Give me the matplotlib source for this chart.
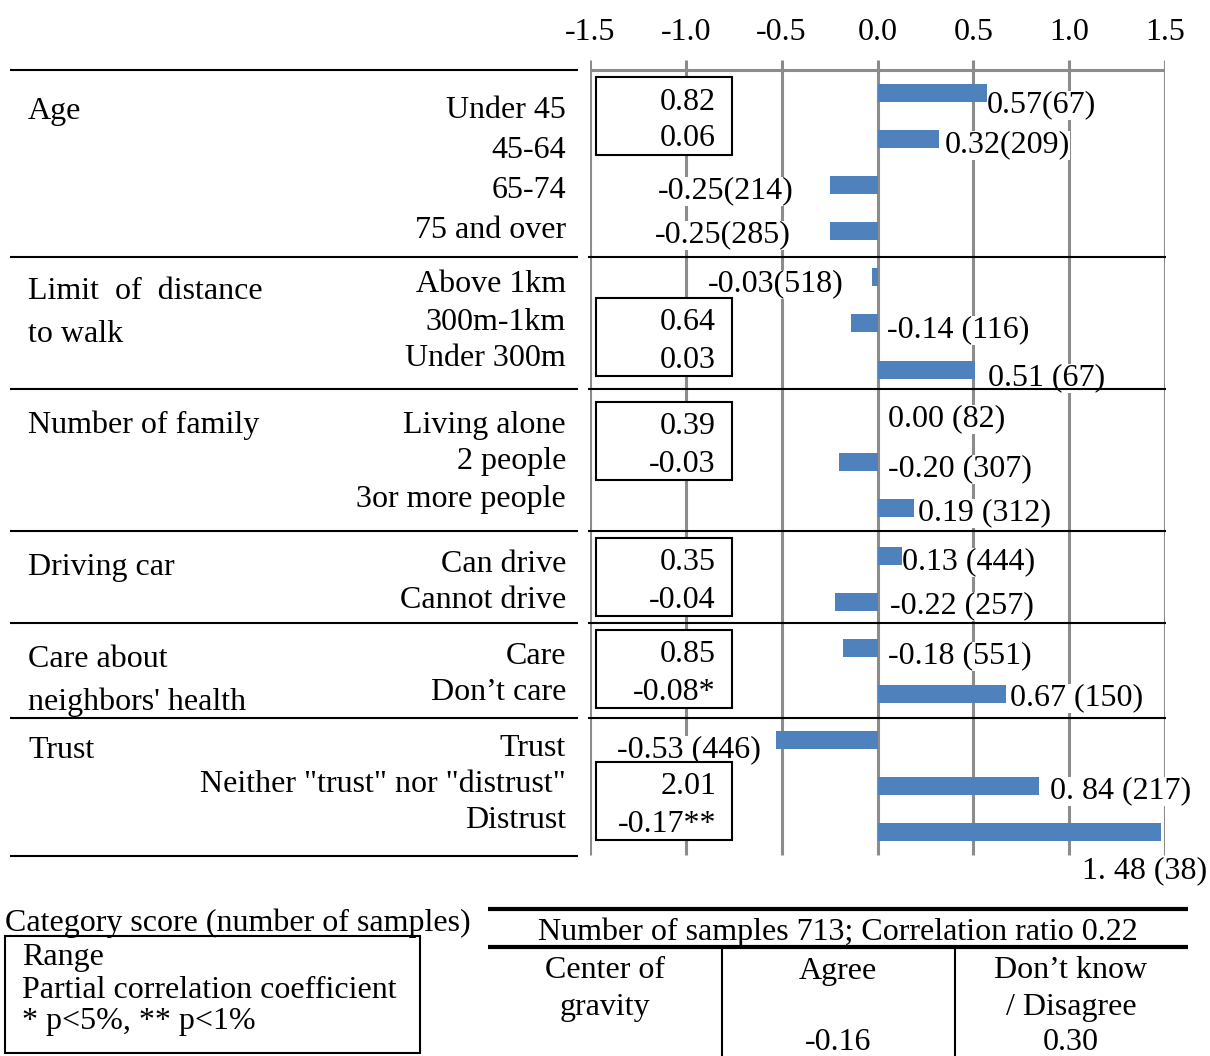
import matplotlib
matplotlib.use("Agg")
import matplotlib.pyplot as plt
from matplotlib.patches import Rectangle

plt.rcParams['font.family'] = ['Liberation Serif', 'DejaVu Serif']

# category scores and labels
scores = [0.57, 0.32, -0.25, -0.25,
          -0.03, -0.14, 0.51,
          0.00, -0.20, 0.19,
          0.13, -0.22,
          -0.18, 0.67,
          -0.53, 0.84, 1.48]
score_labels = ["0.57(67)", "0.32(209)", "-0.25(214)", "-0.25(285)",
                "-0.03(518)", "-0.14 (116)", "0.51 (67)",
                "0.00 (82)", "-0.20 (307)", "0.19 (312)",
                "0.13 (444)", "-0.22 (257)",
                "-0.18 (551)", "0.67 (150)",
                "-0.53 (446)", "0. 84 (217)", "1. 48 (38)"]
groups = ["Age", "Limit  of  distance\nto walk", "Number of family",
          "Driving car", "Care about\nneighbors' health", "Trust"]
categories = ["Under 45", "45-64", "65-74", "75 and over",
              "Above 1km", "300m-1km", "Under 300m",
              "Living alone", "2 people", "3or more people",
              "Can drive", "Cannot drive",
              "Care", "Don\u2019t care",
              "Trust", "Neither \"trust\" nor \"distrust\"", "Distrust"]
ranges = ["0.82", "0.64", "0.39", "0.35", "0.85", "2.01"]
partial_corr = ["0.06", "0.03", "-0.03", "-0.04", "-0.08*", "-0.17**"]
ticks = [-1.5, -1.0, -0.5, 0.0, 0.5, 1.0, 1.5]

# layout (pixels)
bar_y = [93, 139, 185, 231, 277, 323, 370, 416, 462, 508, 556, 602, 648, 694, 740, 786, 832]
lab_pos = [(987, 102), (945, 142), (658, 188), (655, 232), (708, 281), (887, 327),
           (988, 375), (888, 416), (888, 466), (918, 510), (902, 559), (890, 603),
           (888, 653), (1010, 695), (617, 747), (1050, 788), (1082, 868)]
cat_y = [108, 148, 188, 228, 282, 320, 356, 422, 459, 496, 562, 597, 653, 690, 745, 781, 818]
group_y = [108, 310, 422, 564, 678, 748]
box_y = [77, 298, 402, 538, 630, 762]
seps = [257, 389, 531, 623, 718]

FS = 23
DY = 3  # text baseline nudge
W, H = 1210, 1056
fig = plt.figure(figsize=(W / 100, H / 100), dpi=100)

x0, x1 = 590, 1165
ax = fig.add_axes([x0 / W, 0, (x1 - x0) / W, 1])
ax.set_xlim(-1.5, 1.5)
ax.set_ylim(H, 0)
ax.axis('off')
ax.set_zorder(0)

bg = fig.add_axes([0, 0, 1, 1])
bg.set_xlim(0, W)
bg.set_ylim(H, 0)
bg.axis('off')
bg.patch.set_alpha(0)
bg.set_zorder(1)

# grid and axis
ax.vlines(ticks, 60, 855, color='#8c8c8c', lw=2.2, zorder=1)
ax.hlines(70, -1.5, 1.5, color='#8c8c8c', lw=2.2, zorder=1)
for t in ticks:
    ax.text(t, 30 + DY, f"{t:.1f}", ha='center', va='center', fontsize=FS)

ax.barh(bar_y, scores, height=18, color='#4f81bd', zorder=3)
for s, (lx, ly) in zip(score_labels, lab_pos):
    bg.text(lx, ly + DY, s, ha='left', va='center', fontsize=FS, zorder=4,
            bbox=dict(facecolor='white', edgecolor='none', pad=0))

# separators
bg.hlines([70, 856], 10, 578, color='black', lw=1.5)
bg.hlines(seps, 10, 578, color='black', lw=1.5)
bg.hlines(seps, 588, 1166, color='black', lw=1.5, zorder=5)

for g, gy in zip(groups, group_y):
    bg.text(28, gy + DY, g, ha='left', va='center', fontsize=FS, linespacing=1.62)
for c, cy in zip(categories, cat_y):
    bg.text(566, cy + DY, c, ha='right', va='center', fontsize=FS)

for r, p, by in zip(ranges, partial_corr, box_y):
    bg.add_patch(Rectangle((596, by), 136, 78, facecolor='white', edgecolor='black',
                           lw=1.5, zorder=6))
    bg.text(716, by + 22 + DY, r, ha='right', va='center', fontsize=FS, zorder=7)
    bg.text(716, by + 59 + DY, p, ha='right', va='center', fontsize=FS, zorder=7)

# legend box
bg.text(5, 920 + DY, "Category score (number of samples)", ha='left', va='center', fontsize=FS)
bg.add_patch(Rectangle((5, 936), 415, 117, facecolor='none', edgecolor='black', lw=1.5))
for t, ty in zip(["Range", "Partial correlation coefficient", "* p<5%, ** p<1%"], [955, 987, 1019]):
    bg.text(22, ty + DY, t, ha='left', va='center', fontsize=FS)

# summary table
bg.hlines([909, 947], 488, 1188, color='black', lw=3)
bg.vlines([722, 955], 947, H, color='black', lw=1.5)
bg.text(838, 929 + DY, "Number of samples 713; Correlation ratio 0.22", ha='center', va='center', fontsize=FS)
bg.text(605, 968 + DY, "Center of", ha='center', va='center', fontsize=FS)
bg.text(605, 1005 + DY, "gravity", ha='center', va='center', fontsize=FS)
bg.text(838, 968 + DY, "Agree", ha='center', va='center', fontsize=FS)
bg.text(838, 1040 + DY, "-0.16", ha='center', va='center', fontsize=FS)
bg.text(1071, 968 + DY, "Don\u2019t know", ha='center', va='center', fontsize=FS)
bg.text(1071, 1005 + DY, "/ Disagree", ha='center', va='center', fontsize=FS)
bg.text(1071, 1040 + DY, "0.30", ha='center', va='center', fontsize=FS)

fig.savefig("out.png", dpi=100)
